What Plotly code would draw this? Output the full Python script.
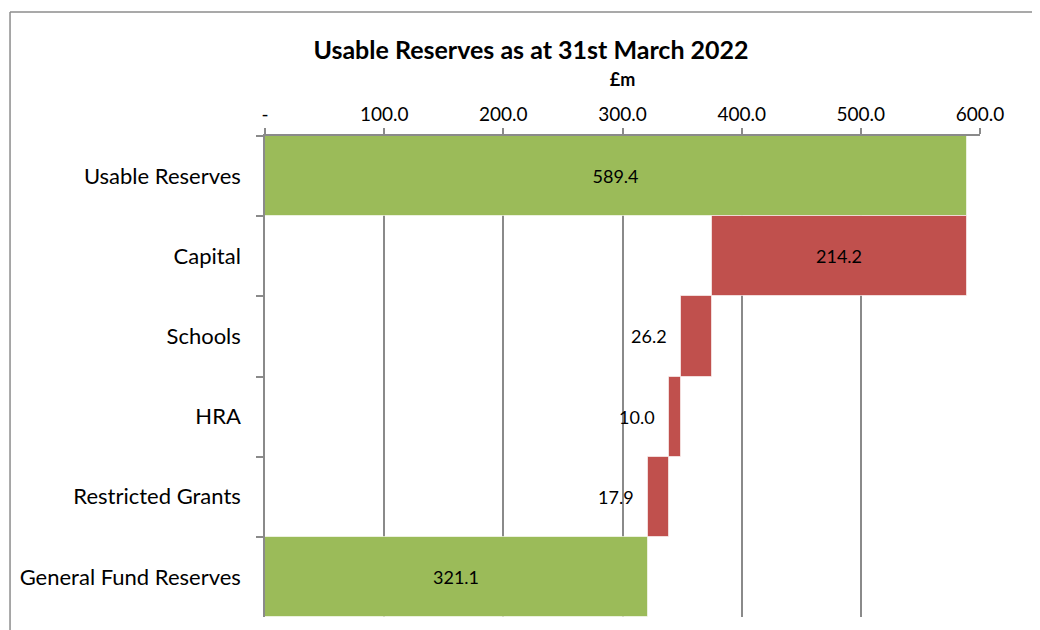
import plotly.graph_objects as go

# Waterfall of usable reserves (£m)
categories = ["Usable Reserves", "Capital", "Schools", "HRA", "Restricted Grants", "General Fund Reserves"]
values = [589.4, 214.2, 26.2, 10.0, 17.9, 321.1]
kinds = ["total", "step", "step", "step", "step", "total"]
tick_vals = [0, 100, 200, 300, 400, 500, 600]
tick_text = ["-", "100.0", "200.0", "300.0", "400.0", "500.0", "600.0"]

GREEN = "#9BBB59"
RED = "#C0504D"
GREY = "#8a8a8a"
FONT = "Lato, 'Open Sans', sans-serif"

# work out where each step bar starts (running total going down)
bases = []
running = 0.0
for v, k in zip(values, kinds):
    if k == "total":
        bases.append(0.0)
        running = v
    else:
        running -= v
        bases.append(running)

colors = [GREEN if k == "total" else RED for k in kinds]
labels = [f"{v:.1f}" for v in values]
# small bars get their label outside, to the left
small = [v < 100 for v in values]
textpos = ["none" if s else "inside" for s in small]

fig = go.Figure()
fig.add_trace(go.Bar(
    y=categories, x=values, base=bases, orientation="h",
    marker=dict(color=colors, line=dict(color="rgba(255,255,255,0.6)", width=1)),
    text=labels, textposition=textpos, insidetextanchor="middle",
    textfont=dict(family=FONT, size=18, color="black"),
    hoverinfo="skip", showlegend=False,
))

for cat, b, lab, s in zip(categories, bases, labels, small):
    if s:
        fig.add_annotation(x=b, y=cat, text=lab, showarrow=False,
                           xanchor="right", xshift=-12,
                           font=dict(family=FONT, size=18, color="black"))

# chart frame: only left and top edges are visible in the crop
frame = dict(color="#8c8c8c", width=1.5)
fig.add_shape(type="line", xref="paper", yref="paper",
              x0=-0.3566, x1=-0.3566, y0=-0.3, y1=1.2578, line=frame, layer="below")
fig.add_shape(type="line", xref="paper", yref="paper",
              x0=-0.3566, x1=1.5, y0=1.2578, y1=1.2578, line=frame, layer="below")

fig.update_layout(
    width=1040, height=630,
    margin=dict(l=257, r=68, t=128, b=21),
    paper_bgcolor="white", plot_bgcolor="white",
    bargap=0,
    font=dict(family=FONT, size=18, color="black"),
    title=dict(text="<b>Usable Reserves as at 31st March 2022</b>",
               x=523 / 1040, xanchor="center", xref="container",
               y=1 - 42 / 630, yanchor="middle", yref="container",
               font=dict(family=FONT, size=25, color="black")),
    xaxis=dict(
        side="top", range=[0, 600], tickvals=tick_vals, ticktext=tick_text,
        showgrid=True, gridcolor=GREY, gridwidth=1.5,
        showline=True, linecolor=GREY, linewidth=1.5,
        ticks="outside", ticklen=6, tickcolor=GREY, tickwidth=1.5,
        tickfont=dict(family=FONT, size=19, color="black"),
        title=dict(text="<b>£m</b>", standoff=10, font=dict(family=FONT, size=18, color="black")),
        zeroline=False, fixedrange=True,
    ),
    yaxis=dict(
        categoryorder="array", categoryarray=categories, autorange="reversed",
        showline=True, linecolor=GREY, linewidth=1.5,
        ticks="outside", ticklen=7, tickcolor=GREY, tickwidth=1.5,
        tickson="boundaries", ticklabelstandoff=18,
        tickfont=dict(family=FONT, size=22, color="black"),
        showgrid=False, fixedrange=True,
    ),
)

fig.write_html("out.html", config={"displayModeBar": False})
